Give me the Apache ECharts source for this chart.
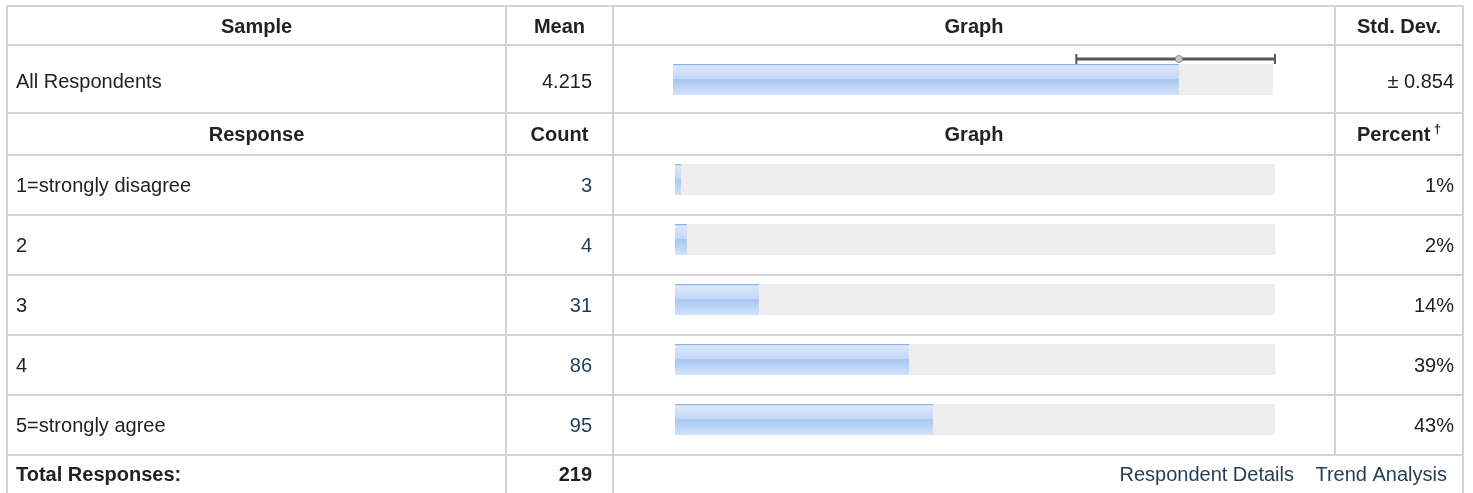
<!DOCTYPE html>
<html>
<head>
<meta charset="utf-8">
<script src="https://cdn.jsdelivr.net/npm/echarts@6/dist/echarts.min.js"></script>
<style>
  html, body { margin: 0; padding: 0; background: #fff; }
  #main { width: 1473px; height: 493px; }
</style>
</head>
<body>
<div id="main"></div>
<script>
// data
var sampleLabels = ['All Respondents'];
var means = [4.215];
var stdDevs = [0.854];
var meanScale = [0, 5];
var responses = ['1=strongly disagree', '2', '3', '4', '5=strongly agree'];
var counts = [3, 4, 31, 86, 95];
var percents = [1, 2, 14, 39, 43];
var totalResponses = 219;

// table layout
var FONT = '"Liberation Sans", Arial, Helvetica, sans-serif';
var FS = 20;
var colX = [7, 506, 613, 1335, 1463];
var rowY = [6, 45, 113, 155, 215, 275, 335, 395, 455];
var lineColor = '#d3d3d3';
var linkColor = '#1e3d58';

var barFill = new echarts.graphic.LinearGradient(0, 0, 0, 1, [
    {offset: 0, color: '#8eb2ea'},
    {offset: 0.04, color: '#8eb2ea'},
    {offset: 0.05, color: '#dbe8fa'},
    {offset: 0.48, color: '#c2d7f5'},
    {offset: 0.5, color: '#a8c6f0'},
    {offset: 1, color: '#d2e3fb'}
]);

var graphics = [];
rowY.forEach(function (y) {
    graphics.push({type: 'line', shape: {x1: 6, y1: y, x2: 1464, y2: y},
        style: {stroke: lineColor, lineWidth: 2}, silent: true});
});
colX.forEach(function (x, i) {
    graphics.push({type: 'line', shape: {x1: x, y1: 5, x2: x, y2: i === 3 ? 455 : 493},
        style: {stroke: lineColor, lineWidth: 2}, silent: true});
});

function txt(s, x, y, align, bold, color) {
    graphics.push({type: 'text', silent: true, style: {
        text: s, x: x, y: y, textAlign: align, textVerticalAlign: 'middle',
        font: (bold ? 'bold ' : '') + FS + 'px ' + FONT, fill: color || '#222'
    }});
}
var midCol = function (i) { return (colX[i] + colX[i + 1]) / 2; };

txt('Sample', midCol(0), 27, 'center', true);
txt('Mean', midCol(1), 27, 'center', true);
txt('Graph', midCol(2), 27, 'center', true);
txt('Std. Dev.', midCol(3), 27, 'center', true);

txt('Response', midCol(0), 135, 'center', true);
txt('Count', midCol(1), 135, 'center', true);
txt('Graph', midCol(2), 135, 'center', true);
graphics.push({type: 'text', silent: true, style: {
    text: '{a|Percent} {b|†}', x: midCol(3), y: 135, textAlign: 'center', textVerticalAlign: 'middle',
    rich: {
        a: {font: 'bold ' + FS + 'px ' + FONT, fill: '#222'},
        b: {font: 'bold 13px ' + FONT, fill: '#222', verticalAlign: 'top', padding: [0, 0, 12, 0]}
    }
}});

txt('Total Responses:', 16, 475, 'left', true);
txt(String(totalResponses), 592, 475, 'right', true);
txt('Trend Analysis', 1447, 475, 'right', false, linkColor);
txt('Respondent Details', 1294, 475, 'right', false, linkColor);

function labelAxis(gridIndex, data, pos, align, margin, color, shift) {
    return {
        type: 'category', gridIndex: gridIndex, data: data, inverse: true, position: pos,
        axisLine: {show: false}, axisTick: {show: false}, splitLine: {show: false},
        axisLabel: {
            show: true, align: align, margin: margin,
            formatter: function (v) { return '{a|' + v + '}'; },
            rich: {a: {fontSize: FS, fontFamily: FONT, color: color || '#222', padding: [shift, 0, 0, 0]}}
        }
    };
}

var option = {
    animation: false,
    backgroundColor: '#fff',
    grid: [
        {left: 673, width: 600, top: 64, height: 31, outerBoundsMode: 'none'},
        {left: 675, width: 600, top: 149.5, height: 300, outerBoundsMode: 'none'}
    ],
    xAxis: [
        {type: 'value', gridIndex: 0, min: meanScale[0], max: meanScale[1], show: false},
        {type: 'value', gridIndex: 1, min: 0, max: 100, show: false}
    ],
    yAxis: [
        labelAxis(0, sampleLabels, 'left', 'left', 657, '#222', 5),
        labelAxis(0, means.map(function (v) { return v.toFixed(3); }), 'left', 'right', 81, '#222', 5),
        labelAxis(0, stdDevs.map(function (v) { return '± ' + v.toFixed(3); }), 'right', 'right', 181, '#222', 5),
        labelAxis(1, responses, 'left', 'left', 659, '#222', 14),
        labelAxis(1, counts.map(String), 'left', 'right', 83, linkColor, 14),
        labelAxis(1, percents.map(function (v) { return v + '%'; }), 'right', 'right', 179, '#222', 14)
    ],
    series: [
        {
            type: 'bar', xAxisIndex: 0, yAxisIndex: 0, data: means, barWidth: 31,
            showBackground: true, backgroundStyle: {color: '#eeeeee'},
            itemStyle: {color: barFill}
        },
        {
            type: 'custom', xAxisIndex: 0, yAxisIndex: 0, z: 5,
            data: means.map(function (m, i) { return [m, stdDevs[i], i]; }),
            encode: {x: 0, y: 2},
            renderItem: function (params, api) {
                var m = api.value(0), s = api.value(1), c = api.value(2);
                var lo = api.coord([Math.max(meanScale[0], m - s), c]);
                var hi = api.coord([Math.min(meanScale[1], m + s), c]);
                var mid = api.coord([m, c]);
                var y = mid[1] - 20.5;
                var st = {stroke: '#555', lineWidth: 3};
                return {type: 'group', children: [
                    {type: 'line', shape: {x1: lo[0], y1: y, x2: hi[0] + 2, y2: y}, style: st},
                    {type: 'line', shape: {x1: lo[0], y1: y - 5, x2: lo[0], y2: y + 5}, style: {stroke: '#555', lineWidth: 2}},
                    {type: 'line', shape: {x1: hi[0] + 2, y1: y - 5, x2: hi[0] + 2, y2: y + 5}, style: {stroke: '#555', lineWidth: 2}},
                    {type: 'circle', shape: {cx: mid[0], cy: y, r: 3.5}, style: {fill: '#c8c8c8', stroke: '#8a8a8a', lineWidth: 1}}
                ]};
            }
        },
        {
            type: 'bar', xAxisIndex: 1, yAxisIndex: 3, data: percents, barWidth: 31,
            showBackground: true, backgroundStyle: {color: '#eeeeee'},
            itemStyle: {color: barFill}
        }
    ],
    graphic: graphics
};

var chart = echarts.init(document.getElementById('main'));
chart.setOption(option);
</script>
</body>
</html>
